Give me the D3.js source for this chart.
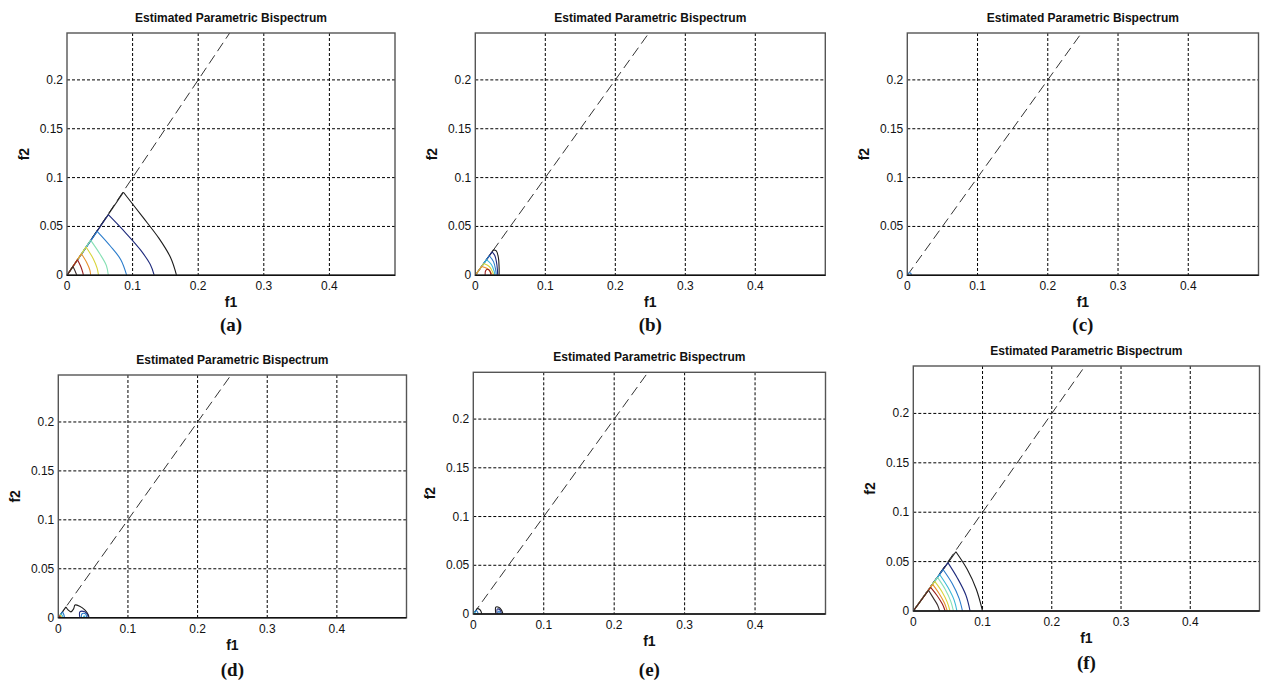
<!DOCTYPE html>
<html>
<head>
    <meta charset="utf-8">
    <title>Estimated Parametric Bispectrum</title>
    <style>
        body { margin: 0; background: white; }
        svg { display: block; }
        .tick-label { font-family: "Liberation Sans", Arial, sans-serif; font-size: 12px; fill: #111; }
        .title { font-family: "Liberation Sans", Arial, sans-serif; font-size: 12px; font-weight: bold; fill: #111; }
        .ax-label { font-family: "Liberation Sans", Arial, sans-serif; font-size: 14px; font-weight: bold; fill: #111; }
        .letter { font-family: "Liberation Serif", "Times New Roman", serif; font-size: 19px; font-weight: bold; fill: #111; }
    </style>
</head>
<body>
    <script src="https://cdnjs.cloudflare.com/ajax/libs/d3/7.8.5/d3.min.js"></script>
    <script>

// ---- data ----
var titleText = "Estimated Parametric Bispectrum";
var xLabel = "f1";
var yLabel = "f2";
var panelLetters = ["(a)", "(b)", "(c)", "(d)", "(e)", "(f)"];
var xTicks = [0, 0.1, 0.2, 0.3, 0.4];
var yTicks = [0, 0.05, 0.1, 0.15, 0.2];
var xMax = 0.5;
var yMax = 0.248;

// contours: level 1 = outermost (lowest), higher = inner; points are [f1, f2]
var contoursA = [
    { level: 1, pts: [[0.086, 0.085], [0.115, 0.060], [0.140, 0.038], [0.158, 0.018], [0.167, 0]] },
    { level: 2, pts: [[0.063, 0.062], [0.090, 0.043], [0.112, 0.026], [0.127, 0.011], [0.133, 0]] },
    { level: 3, pts: [[0.046, 0.045], [0.066, 0.030], [0.082, 0.016], [0.091, 0]] },
    { level: 5, pts: [[0.036, 0.036], [0.050, 0.022], [0.060, 0.010], [0.063, 0]] },
    { level: 6, pts: [[0.029, 0.029], [0.040, 0.017], [0.046, 0.007], [0.048, 0]] },
    { level: 7, pts: [[0.022, 0.022], [0.030, 0.013], [0.035, 0.005], [0.036, 0]] },
    { level: 8, pts: [[0.016, 0.016], [0.021, 0.009], [0.024, 0.003], [0.025, 0]] },
    { level: 9, pts: [[0.009, 0.009], [0.012, 0.005], [0.015, 0]] }
];
var contoursB = [
    { level: 1, pts: [[0.026, 0.026], [0.030, 0.025], [0.033, 0.018], [0.034, 0.008], [0.034, 0]] },
    { level: 2, pts: [[0.024, 0.024], [0.028, 0.020], [0.031, 0.010], [0.032, 0]] },
    { level: 3, pts: [[0.020, 0.020], [0.026, 0.014], [0.029, 0.006], [0.030, 0]] },
    { level: 4, pts: [[0.016, 0.016], [0.023, 0.011], [0.027, 0.004], [0.028, 0]] },
    { level: 6, pts: [[0.012, 0.012], [0.020, 0.009], [0.025, 0.003], [0.026, 0]] },
    { level: 7, pts: [[0.009, 0.009], [0.017, 0.007], [0.023, 0.002], [0.024, 0]] },
    { level: 8, pts: [[0.014, 0], [0.015, 0.005], [0.019, 0.006], [0.022, 0.002], [0.022, 0]] }
];
var contoursC = [
    { level: 3, pts: [[0.003, 0.003], [0.005, 0.002], [0.006, 0]] }
];
var contoursD = [
    { level: 1, pts: [[0.011, 0.011], [0.014, 0.008], [0.018, 0.006], [0.022, 0.009], [0.024, 0.013], [0.030, 0.012], [0.038, 0.008], [0.043, 0.003], [0.044, 0]] },
    { level: 2, pts: [[0.031, 0], [0.031, 0.006], [0.038, 0.006], [0.042, 0.003], [0.043, 0]] },
    { level: 3, pts: [[0.033, 0], [0.034, 0.004], [0.039, 0.004], [0.041, 0]] },
    { level: 4, pts: [[0.036, 0], [0.037, 0.002], [0.039, 0]] },
    { level: 3, pts: [[0.006, 0.006], [0.008, 0.003], [0.009, 0]] },
    { level: 4, pts: [[0.004, 0.004], [0.006, 0.002], [0.007, 0]] },
    { level: 6, pts: [[0.003, 0.003], [0.004, 0.0015], [0.005, 0]] },
    { level: 8, pts: [[0.002, 0.002], [0.003, 0]] }
];
var contoursE = [
    { level: 1, pts: [[0.006, 0.006], [0.010, 0.004], [0.012, 0]] },
    { level: 3, pts: [[0.004, 0.004], [0.006, 0.002], [0.007, 0]] },
    { level: 4, pts: [[0.002, 0.002], [0.004, 0]] },
    { level: 1, pts: [[0.032, 0], [0.032, 0.007], [0.036, 0.007], [0.040, 0.004], [0.042, 0]] },
    { level: 2, pts: [[0.034, 0], [0.034, 0.005], [0.038, 0.004], [0.040, 0]] },
    { level: 3, pts: [[0.035, 0], [0.036, 0.003], [0.039, 0]] }
];
var contoursF = [
    { level: 1, pts: [[0.0615, 0.060], [0.078, 0.042], [0.091, 0.022], [0.100, 0]] },
    { level: 2, pts: [[0.050, 0.049], [0.064, 0.033], [0.076, 0.016], [0.082, 0]] },
    { level: 3, pts: [[0.043, 0.042], [0.056, 0.028], [0.066, 0.013], [0.071, 0]] },
    { level: 4, pts: [[0.038, 0.037], [0.050, 0.024], [0.059, 0.011], [0.063, 0]] },
    { level: 5, pts: [[0.035, 0.034], [0.046, 0.022], [0.054, 0.010], [0.058, 0]] },
    { level: 6, pts: [[0.031, 0.030], [0.041, 0.020], [0.049, 0.009], [0.053, 0]] },
    { level: 7, pts: [[0.028, 0.027], [0.037, 0.018], [0.045, 0.008], [0.049, 0]] },
    { level: 8, pts: [[0.025, 0.024], [0.034, 0.016], [0.042, 0.007], [0.046, 0]] },
    { level: 9, pts: [[0.022, 0.021], [0.029, 0.013], [0.035, 0.006], [0.038, 0]] }
];
var panelContours = [contoursA, contoursB, contoursC, contoursD, contoursE, contoursF];

// ---- layout / style ----
var levelColor = d3.scaleOrdinal()
    .domain([1, 2, 3, 4, 5, 6, 7, 8, 9])
    .range(["#1c1c1c", "#1e2a7c", "#2a7ccc", "#3bb8d8", "#86e0b4", "#d8d43a", "#e8902c", "#9a1c1c", "#3a2c2c"]);

var boxes = [
    { left: 67,    right: 395,    top: 33,    bottom: 275.3, letterDy: 56 },
    { left: 475.3, right: 825.3,  top: 33,    bottom: 275.3, letterDy: 56 },
    { left: 907.3, right: 1258.5, top: 33,    bottom: 275.3, letterDy: 56 },
    { left: 58.3,  right: 406.5,  top: 375,   bottom: 617.7, letterDy: 58 },
    { left: 473.3, right: 825.5,  top: 372.3, bottom: 614,   letterDy: 62 },
    { left: 913.3, right: 1259.5, top: 366,   bottom: 611,   letterDy: 58 }
];

var svg = d3.select("body").append("svg")
    .attr("width", 1263)
    .attr("height", 682);

boxes.forEach(function (b, i) {
    drawPanel(b, panelContours[i], panelLetters[i]);
});

function drawPanel(b, contours, letter) {
    var g = svg.append("g");
    var x = d3.scaleLinear().domain([0, xMax]).range([b.left, b.right]);
    var y = d3.scaleLinear().domain([0, yMax]).range([b.bottom, b.top]);
    var cx = (b.left + b.right) / 2;

    // grid
    g.selectAll("line.vgrid").data(xTicks.filter(function (d) { return d > 0; }))
        .enter().append("line")
        .attr("x1", function (d) { return x(d); }).attr("x2", function (d) { return x(d); })
        .attr("y1", b.top).attr("y2", b.bottom)
        .attr("stroke", "#000").attr("stroke-width", 1).attr("stroke-dasharray", "3,2");
    g.selectAll("line.hgrid").data(yTicks.filter(function (d) { return d > 0; }))
        .enter().append("line")
        .attr("y1", function (d) { return y(d); }).attr("y2", function (d) { return y(d); })
        .attr("x1", b.left).attr("x2", b.right)
        .attr("stroke", "#000").attr("stroke-width", 1).attr("stroke-dasharray", "3,2");

    // f2 = f1 dashed line
    g.append("line")
        .attr("x1", x(0)).attr("y1", y(0))
        .attr("x2", x(yMax)).attr("y2", y(yMax))
        .attr("stroke", "#333").attr("stroke-width", 1).attr("stroke-dasharray", "10,5");

    // contours, outer first
    var curve = d3.line()
        .x(function (p) { return x(p[0]); })
        .y(function (p) { return y(p[1]); })
        .curve(d3.curveCatmullRom.alpha(0.5));
    var sorted = contours.slice().sort(function (a, c) { return a.level - c.level; });
    sorted.forEach(function (c) {
        var p0 = c.pts[0];
        if (Math.abs(p0[0] - p0[1]) < 0.002) {
            // edge along the diagonal
            g.append("line")
                .attr("x1", x(0)).attr("y1", y(0))
                .attr("x2", x(p0[0])).attr("y2", y(p0[1]))
                .attr("stroke", levelColor(c.level)).attr("stroke-width", 1.1);
        }
        g.append("path")
            .attr("d", curve(c.pts))
            .attr("fill", "none")
            .attr("stroke", levelColor(c.level))
            .attr("stroke-width", 1.1);
    });

    // box
    g.append("rect")
        .attr("x", b.left).attr("y", b.top)
        .attr("width", b.right - b.left).attr("height", b.bottom - b.top)
        .attr("fill", "none").attr("stroke", "#555").attr("stroke-width", 1.4);
    g.append("line")
        .attr("x1", b.left).attr("x2", b.right).attr("y1", b.bottom).attr("y2", b.bottom)
        .attr("stroke", "#111").attr("stroke-width", 1.4);

    // tick labels
    g.selectAll("text.xt").data(xTicks).enter().append("text")
        .attr("class", "tick-label")
        .attr("x", function (d) { return x(d); })
        .attr("y", b.bottom + 15)
        .attr("text-anchor", "middle")
        .text(function (d) { return String(d); });
    g.selectAll("text.yt").data(yTicks).enter().append("text")
        .attr("class", "tick-label")
        .attr("x", b.left - 4)
        .attr("y", function (d) { return y(d) + 4; })
        .attr("text-anchor", "end")
        .text(function (d) { return String(d); });

    // titles and labels
    g.append("text").attr("class", "title")
        .attr("x", cx).attr("y", b.top - 11)
        .attr("text-anchor", "middle").text(titleText);
    g.append("text").attr("class", "ax-label")
        .attr("x", cx).attr("y", b.bottom + 32)
        .attr("text-anchor", "middle").text(xLabel);
    g.append("text").attr("class", "ax-label")
        .attr("transform", "translate(" + (b.left - 38) + "," + ((b.top + b.bottom) / 2) + ") rotate(-90)")
        .attr("text-anchor", "middle").text(yLabel);
    g.append("text").attr("class", "letter")
        .attr("x", cx).attr("y", b.bottom + b.letterDy)
        .attr("text-anchor", "middle").text(letter);
}
    </script>
</body>
</html>
